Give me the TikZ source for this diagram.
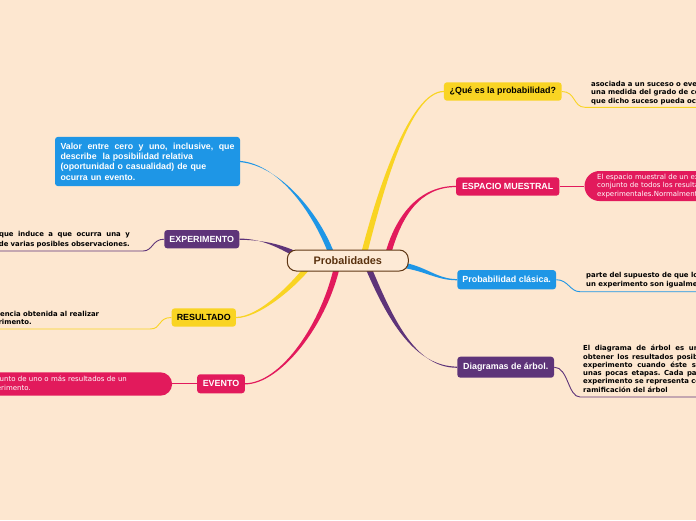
\documentclass[tikz,border=0pt]{standalone}
\usepackage{fontspec}
\setmainfont{Liberation Sans}
\newfontfamily\vfont{DejaVu Sans}
\usetikzlibrary{calc}
\frenchspacing
\definecolor{bg}{RGB}{253,231,208}
\definecolor{myyellow}{RGB}{249,212,35}
\definecolor{mypink}{RGB}{226,26,92}
\definecolor{myblue}{RGB}{30,150,230}
\definecolor{mypurple}{RGB}{94,52,121}
\definecolor{brownline}{RGB}{95,55,20}
\definecolor{browntext}{RGB}{90,50,15}
\definecolor{centerfill}{RGB}{253,234,214}
\newcommand\mmbranch[7]{\fill[#1] ($#2+(#6)$) .. controls ($#3+(#6)$) and ($#4+(#7)$) .. ($#5+(#7)$) -- ($#5-(#7)$) .. controls ($#4-(#7)$) and ($#3-(#6)$) .. ($#2-(#6)$) -- cycle;}
\begin{document}
\begin{tikzpicture}[x=1pt,y=-1pt,
  lbl/.style={rounded corners=3pt, inner sep=0pt, font=\fontsize{8.9}{10.5}\selectfont\bfseries, text=white},
  sub/.style={line width=0.9pt},
  stxt/.style={inner sep=0pt, font=\vfont\bfseries\fontsize{6.9}{8.5}\selectfont, text=black},
  rtxt/.style={font=\vfont\fontsize{7}{8.5}\selectfont, text=white}]
\useasboundingbox (0,0) rectangle (696,520);
\clip (0,0) rectangle (696,520);
\fill[bg] (0,0) rectangle (696,520);
% main boxes
\node[lbl, fill=myyellow, text=black, minimum width=117.7pt, minimum height=18.4pt] (q) at (502.8,91.5) {¿Qué es la probabilidad?};
\node[lbl, fill=mypink, minimum width=103.3pt, minimum height=18.4pt] (esp) at (507.7,186.5) {ESPACIO MUESTRAL};
\node[lbl, fill=myblue, minimum width=98.7pt, minimum height=19.3pt] (pc) at (506.7,279.7) {Probabilidad clásica.};
\node[lbl, fill=mypurple, minimum width=96.7pt, minimum height=21pt] (da) at (505.7,367.2) {Diagramas de árbol.};
\node[lbl, fill=myblue, minimum width=185pt, minimum height=49.3pt, text width=174pt, inner xsep=5.5pt, align=left, font=\fontsize{8.8}{10.3}\selectfont\bfseries] (v) at (147.5,161.5) {\hbox to 174pt{Valor\hfill entre\hfill cero\hfill y\hfill uno,\hfill inclusive,\hfill que}\\describe~ la posibilidad relativa\\(oportunidad o casualidad) de que\\ocurra un evento.};
\node[lbl, fill=mypurple, minimum width=75pt, minimum height=18.3pt] (exp) at (201.8,239.2) {EXPERIMENTO};
\node[lbl, fill=myyellow, text=black, minimum width=64.3pt, minimum height=18.3pt] (res) at (203.8,317.5) {RESULTADO};
\node[lbl, fill=mypink, minimum width=47.7pt, minimum height=19pt] (ev) at (221,383.8) {EVENTO};
% branches
\mmbranch{myyellow}{(363,258)}{(380,190)}{(410,91.5)}{(q.west)}{2.9,0.6}{0,0.6}
\mmbranch{mypink}{(387,258)}{(398,215)}{(420,186.5)}{(esp.west)}{2.8,0.8}{0,0.6}
\mmbranch{myblue}{(395,264)}{(425,267)}{(435,279.7)}{(pc.west)}{0,2.8}{0,0.6}
\mmbranch{mypurple}{(366,262)}{(390,320)}{(415,367.2)}{(da.west)}{2.8,-0.9}{0,0.6}
\mmbranch{myblue}{(333,258)}{(318,215)}{(280,165)}{(v.east)}{2.8,-0.7}{0,0.6}
\mmbranch{mypurple}{(305,259)}{(285,248)}{(265,239.2)}{(exp.east)}{1.4,-2.6}{0,0.6}
\mmbranch{myyellow}{(312,262)}{(292,288)}{(258,317.5)}{(res.east)}{2.4,1.6}{0,0.6}
\mmbranch{mypink}{(338,262)}{(325,325)}{(280,383.8)}{(ev.east)}{2.9,0.3}{0,0.6}
% centre
\node[draw=brownline, line width=1pt, fill=centerfill, rounded corners=9pt, minimum width=121pt, minimum height=21pt, inner sep=0pt, font=\fontsize{10.9}{12}\selectfont\bfseries, text=browntext] (c) at (347.8,260.5) {Probalidades};
% blobs
\node[fill=mypink, rounded corners=15pt, minimum height=30pt, minimum width=200pt, anchor=west, inner xsep=12.7pt, inner ysep=0pt, text width=174.6pt, align=left, rtxt] (espb) at (584.3,186) {El espacio muestral de un experimento es el\\conjunto de todos los resultados\\experimentales.Normalmente se denota S.};
\node[fill=mypink, rounded corners=11.7pt, minimum height=23.4pt, minimum width=200pt, anchor=east, inner xsep=12pt, inner ysep=0pt, text width=176pt, align=left, rtxt] (evb) at (172.3,384) {Conjunto de uno o más resultados de un\\experimento.};
\draw[mypink, line width=1.2pt] (esp.east) -- (espb.west |- esp.east);
\draw[mypink, line width=1.2pt] (ev.west) -- (evb.east |- ev.west);
% underlines
\coordinate (qu) at (585,107.3); \coordinate (qe) at (700,107.3);
\coordinate (pcu) at (580,291.7); \coordinate (pce) at (700,291.7);
\coordinate (dau) at (580,397); \coordinate (dae) at (700,397);
\coordinate (expu) at (143,251); \coordinate (expe) at (-5,251);
\coordinate (resu) at (150,329); \coordinate (rese) at (-5,329);
\draw[sub, myyellow] (q.east) .. controls +(14,0) and +(-12,0) .. (qu) -- (qe);
\draw[sub, myblue] (pc.east) .. controls +(12,0) and +(-10,0) .. (pcu) -- (pce);
\draw[sub, mypurple] (da.east) .. controls +(14,0) and +(-12,0) .. (dau) -- (dae);
\draw[sub, mypurple] (exp.west) .. controls +(-12,0) and +(10,0) .. (expu) -- (expe);
\draw[sub, myyellow] (res.west) .. controls +(-14,0) and +(12,0) .. (resu) -- (rese);
% texts
\node[stxt, anchor=north west, align=left] (qt) at (591,80.7) {asociada a un suceso o evento A, es\\una medida del grado de certeza de\\que dicho suceso pueda ocurrir.};
\node[stxt, anchor=north west, align=left] (pct) at (586,272.4) {parte del supuesto de que los resultados de\\un experimento son igualmente posibles.};
\node[stxt, anchor=north west, text width=172pt, align=justify, font=\vfont\bfseries\fontsize{6.9}{8.3}\selectfont] (dat) at (583,345) {El diagrama de árbol es un método para\linebreak obtener los resultados posibles de un solo\linebreak experimento cuando éste se compone de\linebreak unas pocas etapas. Cada paso o etapa del\linebreak experimento se representa como una nueva\linebreak ramificación del árbol};
\node[stxt, anchor=north east, text width=180pt, align=right, font=\vfont\bfseries\fontsize{6.9}{9.7}\selectfont] (expt) at (130,231) {\hbox to 166pt{Proceso\hfill que\hfill induce\hfill a\hfill que\hfill ocurra\hfill una\hfill y}\\solo una de varias posibles observaciones.};
\node[stxt, anchor=north west, align=left, font=\vfont\bfseries\fontsize{6.9}{8.2}\selectfont] (rest) at (-32.6,310.7) {Consecuencia obtenida al realizar\\un experimento.};
\end{tikzpicture}
\end{document}
